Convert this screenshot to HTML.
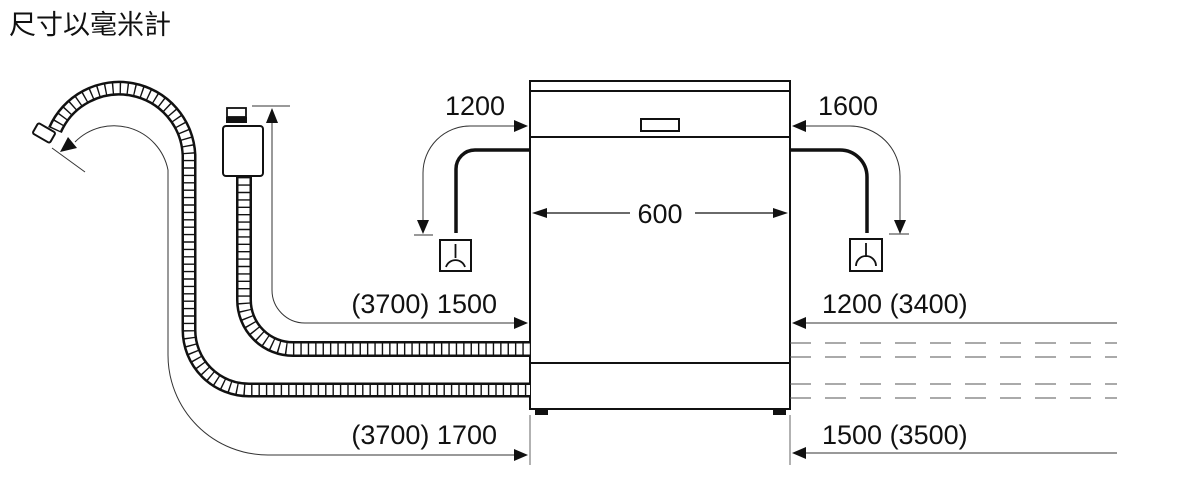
<!DOCTYPE html>
<html><head><meta charset="utf-8"><style>
body{margin:0;background:#fff}
svg{display:block}
text{font-family:"Liberation Sans",Arial,sans-serif;fill:#111}
</style></head><body>
<svg width="1200" height="492" viewBox="0 0 1200 492" xmlns="http://www.w3.org/2000/svg">
<text x="9" y="34" font-size="27" style="font-family:'Liberation Sans','Noto Sans CJK TC',sans-serif">尺寸以毫米計</text>

<!-- machine -->
<g fill="none" stroke="#111" stroke-width="2">
<rect x="530" y="81" width="260" height="328"/>
<line x1="530" y1="91" x2="790" y2="91"/>
<line x1="530" y1="137" x2="790" y2="137"/>
<line x1="530" y1="363" x2="790" y2="363"/>
<rect x="641" y="119" width="38" height="12"/>
</g>
<rect x="535" y="409" width="13" height="6" fill="#111"/>
<rect x="773" y="409" width="13" height="6" fill="#111"/>
<line x1="530" y1="415" x2="530" y2="465" stroke="#666" stroke-width="1"/>
<line x1="790" y1="415" x2="790" y2="465" stroke="#666" stroke-width="1"/>

<!-- 600 -->
<g stroke="#111" stroke-width="1.2">
<line x1="545" y1="213" x2="630" y2="213"/><line x1="695" y1="213" x2="775" y2="213"/>
</g>
<polygon points="532,213 547,208 547,218" fill="#111"/>
<polygon points="788,213 773,208 773,218" fill="#111"/>
<text x="660" y="223" font-size="27" text-anchor="middle">600</text>

<!-- left drain -->
<path d="M530,150 H475 A19,19 0 0 0 456,169 V233" fill="none" stroke="#111" stroke-width="3.5"/>
<rect x="440" y="240" width="31" height="31" fill="none" stroke="#111" stroke-width="2"/>
<path d="M455.5,244 V258 M446,267 A10,10 0 0 1 465,267" fill="none" stroke="#111" stroke-width="1.8"/>
<path d="M515,126 H470 A47,47 0 0 0 423,173 V222" fill="none" stroke="#333" stroke-width="1"/>
<polygon points="528,126 514,120 514,132" fill="#111"/>
<polygon points="423,234 417,220 429,220" fill="#111"/>
<line x1="414" y1="235" x2="433" y2="235" stroke="#333" stroke-width="1"/>
<text x="475" y="115" font-size="27" text-anchor="middle">1200</text>

<!-- right drain -->
<path d="M790,150 H840 A27,27 0 0 1 867,177 V233" fill="none" stroke="#111" stroke-width="3.5"/>
<rect x="850" y="239" width="32" height="32" fill="none" stroke="#111" stroke-width="2"/>
<path d="M866,243 V257 M856,266 A10,10 0 0 1 876,266" fill="none" stroke="#111" stroke-width="1.8"/>
<path d="M805,126 H850 A50,50 0 0 1 900,176 V222" fill="none" stroke="#333" stroke-width="1"/>
<polygon points="792,126 806,120 806,132" fill="#111"/>
<polygon points="900,234 894,220 906,220" fill="#111"/>
<line x1="889" y1="234" x2="909" y2="234" stroke="#333" stroke-width="1"/>
<text x="848" y="115" font-size="27" text-anchor="middle">1600</text>

<!-- hoses -->
<g fill="none">
<path d="M244,177 V300 A49,49 0 0 0 293,349 H530" stroke="#111" stroke-width="16"/>
<path d="M244,177 V300 A49,49 0 0 0 293,349 H530" stroke="#fff" stroke-width="11"/>
<path d="M244,177 V300 A49,49 0 0 0 293,349 H530" stroke="#111" stroke-width="12" stroke-dasharray="1.4,6"/>
<path d="M55,130 A70,70 0 0 1 189,155 V330 A60,60 0 0 0 249,390 H530" stroke="#111" stroke-width="15"/>
<path d="M55,130 A70,70 0 0 1 189,155 V330 A60,60 0 0 0 249,390 H530" stroke="#fff" stroke-width="10"/>
<path d="M55,130 A70,70 0 0 1 189,155 V330 A60,60 0 0 0 249,390 H530" stroke="#111" stroke-width="11" stroke-dasharray="1.4,6"/>
</g>
<rect x="34" y="127" width="20" height="12" rx="2" fill="#fff" stroke="#111" stroke-width="2" transform="rotate(30 44 133)"/>
<!-- aquastop -->
<rect x="227" y="108" width="19" height="9" fill="#fff" stroke="#111" stroke-width="1.8"/>
<rect x="226" y="117" width="21" height="6" fill="#111"/>
<rect x="223" y="126" width="40" height="50" rx="3" fill="#fff" stroke="#111" stroke-width="2"/>

<!-- thin curved arrow top-left + 1700 dim -->
<path d="M515,455 H268 A100,100 0 0 1 168,355 V170 A55,55 0 0 0 75,142" fill="none" stroke="#333" stroke-width="1"/>
<polygon points="60,152 68,137 77,148" fill="#111"/>
<line x1="52" y1="148" x2="85" y2="172" stroke="#333" stroke-width="1"/>
<polygon points="528,455 514,449 514,461" fill="#111"/>
<text x="497" y="444" font-size="27" text-anchor="end">(3700) 1700</text>

<!-- 1500 dimension -->
<path d="M272,122 V290 A33,33 0 0 0 305,323 H515" fill="none" stroke="#333" stroke-width="1"/>
<polygon points="272,108 266,123 278,123" fill="#111"/>
<line x1="252" y1="106" x2="290" y2="106" stroke="#333" stroke-width="1"/>
<polygon points="528,323 514,317 514,329" fill="#111"/>
<text x="497" y="313" font-size="27" text-anchor="end">(3700) 1500</text>

<!-- right dims -->
<line x1="805" y1="323" x2="1117" y2="323" stroke="#333" stroke-width="1"/>
<polygon points="792,323 806,317 806,329" fill="#111"/>
<text x="822" y="313" font-size="27">1200 (3400)</text>
<line x1="805" y1="453" x2="1117" y2="453" stroke="#333" stroke-width="1"/>
<polygon points="792,453 806,447 806,459" fill="#111"/>
<text x="822" y="444" font-size="27">1500 (3500)</text>
<g stroke="#555" stroke-width="1" stroke-dasharray="21,14">
<line x1="790" y1="343" x2="1117" y2="343"/>
<line x1="790" y1="357" x2="1117" y2="357"/>
<line x1="790" y1="384" x2="1117" y2="384"/>
<line x1="790" y1="398" x2="1117" y2="398"/>
</g>
</svg>
</body></html>
